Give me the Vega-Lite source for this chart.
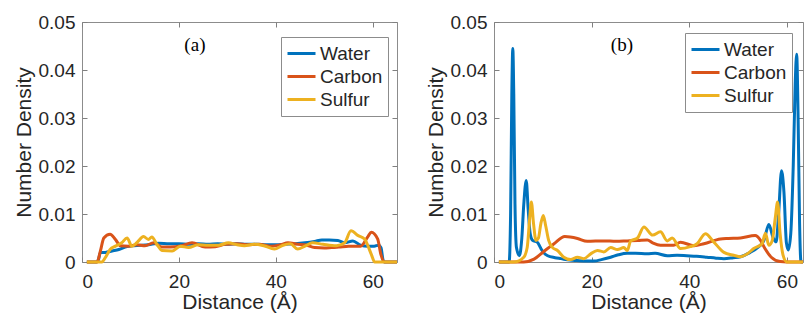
{
  "$schema": "https://vega.github.io/schema/vega-lite/v6.json",
  "background": "white",
  "padding": {"left": 12, "top": 12, "right": 0, "bottom": 0},
  "spacing": 20,
  "config": {
    "font": "Liberation Sans",
    "view": {"stroke": "#8c8c8c", "strokeWidth": 1},
    "axis": {
      "labelFont": "Liberation Sans", "labelFontSize": 19, "labelColor": "#262626",
      "titleFont": "Liberation Sans", "titleFontSize": 21, "titleFontWeight": "normal", "titleColor": "#262626",
      "tickColor": "#808080", "tickSize": -5, "domainColor": "#8c8c8c", "grid": false
    },
    "legend": {
      "labelFont": "Liberation Sans", "labelFontSize": 19, "labelColor": "#262626",
      "fillColor": "white", "strokeColor": "#8c8c8c", "padding": 5,
      "symbolType": "stroke", "symbolStrokeWidth": 3, "symbolSize": 784, "rowPadding": 0, "clipHeight": 23, "labelOffset": 3
    }
  },
  "datasets": {
    "a": [
      {"s":"Water","x":1,"y":0},{"s":"Water","x":3,"y":0},{"s":"Water","x":3.4,"y":0.0005},{"s":"Water","x":3.8,"y":0.002},{"s":"Water","x":4.8,"y":0.002},{"s":"Water","x":6.2,"y":0.0023},{"s":"Water","x":7.6,"y":0.0026},{"s":"Water","x":8.9,"y":0.0031},{"s":"Water","x":10.7,"y":0.0034},{"s":"Water","x":13.7,"y":0.0036},{"s":"Water","x":15.8,"y":0.0039},{"s":"Water","x":18,"y":0.0038},{"s":"Water","x":20,"y":0.0038},{"s":"Water","x":22,"y":0.0037},{"s":"Water","x":24,"y":0.0038},{"s":"Water","x":26,"y":0.0037},{"s":"Water","x":28,"y":0.0038},{"s":"Water","x":30,"y":0.0037},{"s":"Water","x":32,"y":0.0038},{"s":"Water","x":34,"y":0.0037},{"s":"Water","x":36,"y":0.0037},{"s":"Water","x":38,"y":0.0036},{"s":"Water","x":40,"y":0.0036},{"s":"Water","x":42,"y":0.0037},{"s":"Water","x":44,"y":0.0038},{"s":"Water","x":46,"y":0.004},{"s":"Water","x":48,"y":0.0043},{"s":"Water","x":49.5,"y":0.0046},{"s":"Water","x":51,"y":0.0046},{"s":"Water","x":52.8,"y":0.0045},{"s":"Water","x":54.2,"y":0.004},{"s":"Water","x":55.9,"y":0.0044},{"s":"Water","x":57.5,"y":0.0035},{"s":"Water","x":59,"y":0.0033},{"s":"Water","x":60.3,"y":0.0033},{"s":"Water","x":61.2,"y":0.0035},{"s":"Water","x":61.7,"y":0.003},{"s":"Water","x":62.1,"y":0.0005},{"s":"Water","x":62.4,"y":0},{"s":"Water","x":65,"y":0},
      {"s":"Carbon","x":1,"y":0},{"s":"Carbon","x":3.1,"y":0},{"s":"Carbon","x":3.8,"y":0.0023},{"s":"Carbon","x":4.5,"y":0.005},{"s":"Carbon","x":5.8,"y":0.0058},{"s":"Carbon","x":6.9,"y":0.0047},{"s":"Carbon","x":7.9,"y":0.0034},{"s":"Carbon","x":9.6,"y":0.0033},{"s":"Carbon","x":11.3,"y":0.0036},{"s":"Carbon","x":13,"y":0.0034},{"s":"Carbon","x":14.8,"y":0.004},{"s":"Carbon","x":16.5,"y":0.0031},{"s":"Carbon","x":18.2,"y":0.0031},{"s":"Carbon","x":20.6,"y":0.0034},{"s":"Carbon","x":22.7,"y":0.004},{"s":"Carbon","x":25.4,"y":0.0031},{"s":"Carbon","x":27.5,"y":0.0032},{"s":"Carbon","x":29.6,"y":0.0037},{"s":"Carbon","x":32,"y":0.0038},{"s":"Carbon","x":34,"y":0.0036},{"s":"Carbon","x":36.5,"y":0.0037},{"s":"Carbon","x":39,"y":0.0033},{"s":"Carbon","x":41,"y":0.0036},{"s":"Carbon","x":42.5,"y":0.004},{"s":"Carbon","x":44.5,"y":0.0037},{"s":"Carbon","x":46,"y":0.0036},{"s":"Carbon","x":48,"y":0.003},{"s":"Carbon","x":50,"y":0.0029},{"s":"Carbon","x":51.5,"y":0.003},{"s":"Carbon","x":53,"y":0.0031},{"s":"Carbon","x":55,"y":0.0033},{"s":"Carbon","x":57.5,"y":0.0033},{"s":"Carbon","x":59,"y":0.0053},{"s":"Carbon","x":59.7,"y":0.0062},{"s":"Carbon","x":61,"y":0.0048},{"s":"Carbon","x":61.7,"y":0.0015},{"s":"Carbon","x":62.4,"y":0},{"s":"Carbon","x":65,"y":0},
      {"s":"Sulfur","x":1,"y":0},{"s":"Sulfur","x":4.1,"y":0},{"s":"Sulfur","x":4.8,"y":0.0009},{"s":"Sulfur","x":5.8,"y":0.0026},{"s":"Sulfur","x":6.9,"y":0.0033},{"s":"Sulfur","x":8.2,"y":0.004},{"s":"Sulfur","x":9.3,"y":0.005},{"s":"Sulfur","x":10.3,"y":0.0033},{"s":"Sulfur","x":11.3,"y":0.004},{"s":"Sulfur","x":12.7,"y":0.0053},{"s":"Sulfur","x":13.7,"y":0.0047},{"s":"Sulfur","x":14.4,"y":0.0052},{"s":"Sulfur","x":15.5,"y":0.0036},{"s":"Sulfur","x":16.5,"y":0.0024},{"s":"Sulfur","x":18.6,"y":0.0023},{"s":"Sulfur","x":20.3,"y":0.0033},{"s":"Sulfur","x":22,"y":0.003},{"s":"Sulfur","x":24,"y":0.0036},{"s":"Sulfur","x":26,"y":0.0035},{"s":"Sulfur","x":28.2,"y":0.0035},{"s":"Sulfur","x":30.2,"y":0.004},{"s":"Sulfur","x":32,"y":0.0036},{"s":"Sulfur","x":33.5,"y":0.0034},{"s":"Sulfur","x":35.5,"y":0.0037},{"s":"Sulfur","x":37.5,"y":0.0034},{"s":"Sulfur","x":39.7,"y":0.0027},{"s":"Sulfur","x":41.5,"y":0.0035},{"s":"Sulfur","x":43,"y":0.0038},{"s":"Sulfur","x":44.5,"y":0.0027},{"s":"Sulfur","x":46,"y":0.0033},{"s":"Sulfur","x":47.6,"y":0.004},{"s":"Sulfur","x":49.7,"y":0.0037},{"s":"Sulfur","x":52.5,"y":0.0034},{"s":"Sulfur","x":54.2,"y":0.004},{"s":"Sulfur","x":55.5,"y":0.0065},{"s":"Sulfur","x":57,"y":0.0055},{"s":"Sulfur","x":58.3,"y":0.0048},{"s":"Sulfur","x":59.7,"y":0.0016},{"s":"Sulfur","x":60.4,"y":0},{"s":"Sulfur","x":65,"y":0}
    ],
    "b": [
      {"s":"Water","x":1,"y":0},{"s":"Water","x":3.1,"y":0},{"s":"Water","x":3.4,"y":0.01},{"s":"Water","x":3.65,"y":0.035},{"s":"Water","x":3.85,"y":0.0445},{"s":"Water","x":4.05,"y":0.035},{"s":"Water","x":4.3,"y":0.012},{"s":"Water","x":4.6,"y":0.003},{"s":"Water","x":5.2,"y":0.0013},{"s":"Water","x":5.7,"y":0.005},{"s":"Water","x":6.1,"y":0.012},{"s":"Water","x":6.6,"y":0.017},{"s":"Water","x":7,"y":0.011},{"s":"Water","x":7.4,"y":0.006},{"s":"Water","x":7.9,"y":0.0045},{"s":"Water","x":8.9,"y":0.0041},{"s":"Water","x":9.5,"y":0.003},{"s":"Water","x":10.2,"y":0.0019},{"s":"Water","x":11,"y":0.0013},{"s":"Water","x":12.5,"y":0.0009},{"s":"Water","x":13.7,"y":0.0007},{"s":"Water","x":15.5,"y":0.0004},{"s":"Water","x":17,"y":0.0003},{"s":"Water","x":19,"y":0.0002},{"s":"Water","x":20.5,"y":0.0002},{"s":"Water","x":22,"y":0.0005},{"s":"Water","x":23.9,"y":0.001},{"s":"Water","x":25.5,"y":0.0015},{"s":"Water","x":27.3,"y":0.0018},{"s":"Water","x":29,"y":0.0018},{"s":"Water","x":31.4,"y":0.0017},{"s":"Water","x":33,"y":0.0018},{"s":"Water","x":35.5,"y":0.0013},{"s":"Water","x":37.5,"y":0.0014},{"s":"Water","x":39.5,"y":0.0013},{"s":"Water","x":41.5,"y":0.0012},{"s":"Water","x":43.6,"y":0.001},{"s":"Water","x":45.5,"y":0.0008},{"s":"Water","x":47.1,"y":0.0007},{"s":"Water","x":49,"y":0.0009},{"s":"Water","x":50.5,"y":0.0011},{"s":"Water","x":52.5,"y":0.002},{"s":"Water","x":54,"y":0.003},{"s":"Water","x":55.3,"y":0.0045},{"s":"Water","x":56.3,"y":0.0078},{"s":"Water","x":57.2,"y":0.005},{"s":"Water","x":57.8,"y":0.0042},{"s":"Water","x":58.3,"y":0.01},{"s":"Water","x":58.9,"y":0.019},{"s":"Water","x":59.4,"y":0.0145},{"s":"Water","x":59.9,"y":0.004},{"s":"Water","x":60.3,"y":0.0025},{"s":"Water","x":60.8,"y":0.006},{"s":"Water","x":61.3,"y":0.02},{"s":"Water","x":61.7,"y":0.037},{"s":"Water","x":62,"y":0.0433},{"s":"Water","x":62.3,"y":0.03},{"s":"Water","x":62.6,"y":0.008},{"s":"Water","x":62.9,"y":0},{"s":"Water","x":63.3,"y":0},
      {"s":"Carbon","x":1,"y":0},{"s":"Carbon","x":6.1,"y":0},{"s":"Carbon","x":8.2,"y":0.0006},{"s":"Carbon","x":10.2,"y":0.0022},{"s":"Carbon","x":12.3,"y":0.0038},{"s":"Carbon","x":14.5,"y":0.0053},{"s":"Carbon","x":17.1,"y":0.0049},{"s":"Carbon","x":19.1,"y":0.0043},{"s":"Carbon","x":22.5,"y":0.0044},{"s":"Carbon","x":25,"y":0.0043},{"s":"Carbon","x":27.3,"y":0.0044},{"s":"Carbon","x":29.5,"y":0.0045},{"s":"Carbon","x":31.4,"y":0.0046},{"s":"Carbon","x":32.5,"y":0.004},{"s":"Carbon","x":34.1,"y":0.0035},{"s":"Carbon","x":36.8,"y":0.0035},{"s":"Carbon","x":38.2,"y":0.0041},{"s":"Carbon","x":41,"y":0.0034},{"s":"Carbon","x":43,"y":0.0038},{"s":"Carbon","x":46.4,"y":0.0048},{"s":"Carbon","x":48,"y":0.0049},{"s":"Carbon","x":50.5,"y":0.005},{"s":"Carbon","x":53.5,"y":0.0055},{"s":"Carbon","x":54.6,"y":0.0045},{"s":"Carbon","x":55.5,"y":0.0028},{"s":"Carbon","x":56.8,"y":0.001},{"s":"Carbon","x":58.6,"y":0.0001},{"s":"Carbon","x":60,"y":0},{"s":"Carbon","x":63.3,"y":0},
      {"s":"Sulfur","x":1,"y":0},{"s":"Sulfur","x":4.1,"y":0},{"s":"Sulfur","x":6.1,"y":0.001},{"s":"Sulfur","x":6.8,"y":0.003},{"s":"Sulfur","x":7.3,"y":0.009},{"s":"Sulfur","x":7.65,"y":0.0125},{"s":"Sulfur","x":8.1,"y":0.008},{"s":"Sulfur","x":8.6,"y":0.0045},{"s":"Sulfur","x":9.1,"y":0.005},{"s":"Sulfur","x":9.6,"y":0.008},{"s":"Sulfur","x":10.1,"y":0.0097},{"s":"Sulfur","x":10.6,"y":0.0075},{"s":"Sulfur","x":11.2,"y":0.0045},{"s":"Sulfur","x":12,"y":0.003},{"s":"Sulfur","x":13,"y":0.0024},{"s":"Sulfur","x":14.3,"y":0.001},{"s":"Sulfur","x":15.7,"y":0.0005},{"s":"Sulfur","x":17.1,"y":0.001},{"s":"Sulfur","x":18.4,"y":0.0007},{"s":"Sulfur","x":19.8,"y":0.0017},{"s":"Sulfur","x":21.2,"y":0.0024},{"s":"Sulfur","x":22.5,"y":0.0021},{"s":"Sulfur","x":23.9,"y":0.003},{"s":"Sulfur","x":25.3,"y":0.0026},{"s":"Sulfur","x":26.6,"y":0.003},{"s":"Sulfur","x":27.3,"y":0.0024},{"s":"Sulfur","x":28,"y":0.0044},{"s":"Sulfur","x":29.4,"y":0.005},{"s":"Sulfur","x":30.7,"y":0.0073},{"s":"Sulfur","x":32.5,"y":0.0056},{"s":"Sulfur","x":34.1,"y":0.0063},{"s":"Sulfur","x":35.5,"y":0.0044},{"s":"Sulfur","x":36.5,"y":0.005},{"s":"Sulfur","x":38.2,"y":0.0028},{"s":"Sulfur","x":40.2,"y":0.0032},{"s":"Sulfur","x":41.6,"y":0.0038},{"s":"Sulfur","x":43.3,"y":0.0059},{"s":"Sulfur","x":45,"y":0.0042},{"s":"Sulfur","x":47.1,"y":0.002},{"s":"Sulfur","x":49.1,"y":0.0014},{"s":"Sulfur","x":50.5,"y":0.0011},{"s":"Sulfur","x":51.9,"y":0.0017},{"s":"Sulfur","x":53.2,"y":0.0028},{"s":"Sulfur","x":54.9,"y":0.0038},{"s":"Sulfur","x":55.6,"y":0.006},{"s":"Sulfur","x":56.3,"y":0.0035},{"s":"Sulfur","x":57,"y":0.0045},{"s":"Sulfur","x":57.6,"y":0.009},{"s":"Sulfur","x":58.1,"y":0.0125},{"s":"Sulfur","x":58.6,"y":0.006},{"s":"Sulfur","x":59.2,"y":0.0015},{"s":"Sulfur","x":60,"y":0},{"s":"Sulfur","x":63.3,"y":0}
    ]
  },
  "hconcat": [
    {
      "width": 315, "height": 240,
      "layer": [
        {
          "layer": [
            {
              "data": {"name": "a"},
              "mark": {"type": "line", "strokeWidth": 3, "interpolate": "monotone"},
              "encoding": {
                "x": {"field": "x", "type": "quantitative", "scale": {"domain": [0, 65], "nice": false},
                      "axis": {"values": [0, 20, 40, 60], "title": "Distance (Å)", "labelPadding": 15, "titlePadding": 0, "domain": false}},
                "y": {"field": "y", "type": "quantitative", "scale": {"domain": [0, 0.05], "nice": false},
                      "axis": {"values": [0, 0.01, 0.02, 0.03, 0.04, 0.05], "labelExpr": "datum.value == 0 ? '0' : format(datum.value, '.2f')", "title": "Number Density", "labelPadding": 12, "titlePadding": 4, "domain": false}},
                "color": {"field": "s", "type": "nominal", "sort": ["Water", "Carbon", "Sulfur"],
                          "scale": {"domain": ["Water", "Carbon", "Sulfur"], "range": ["#0072BD", "#D95319", "#EDB120"]},
                          "legend": {"title": null, "orient": "none", "legendX": 199, "legendY": 15}}
              }
            },
            {
              "data": {"values": [{"label": "(a)"}]},
              "mark": {"type": "text", "font": "Liberation Serif", "fontSize": 19, "color": "#000000"},
              "encoding": {
                "x": {"datum": 23.3, "type": "quantitative"},
                "y": {"datum": 0.0452, "type": "quantitative"},
                "text": {"field": "label"}
              }
            }
          ]
        },
        {
          "data": {"name": "a"},
          "mark": {"type": "point", "opacity": 0},
          "encoding": {
            "x": {"field": "x", "type": "quantitative", "scale": {"domain": [0, 65], "nice": false},
                  "axis": {"orient": "top", "values": [0, 20, 40, 60], "labels": false, "title": null, "domain": false}},
            "y": {"field": "y", "type": "quantitative", "scale": {"domain": [0, 0.05], "nice": false},
                  "axis": {"orient": "right", "values": [0, 0.01, 0.02, 0.03, 0.04, 0.05], "labels": false, "title": null, "domain": false}}
          }
        }
      ],
      "resolve": {"scale": {"x": "independent", "y": "independent"}}
    },
    {
      "width": 309, "height": 240,
      "layer": [
        {
          "layer": [
            {
              "data": {"name": "b"},
              "mark": {"type": "line", "strokeWidth": 3, "interpolate": "monotone"},
              "encoding": {
                "x": {"field": "x", "type": "quantitative", "scale": {"domain": [0, 63.3], "nice": false},
                      "axis": {"values": [0, 20, 40, 60], "title": "Distance (Å)", "labelPadding": 15, "titlePadding": 0, "domain": false}},
                "y": {"field": "y", "type": "quantitative", "scale": {"domain": [0, 0.05], "nice": false},
                      "axis": {"values": [0, 0.01, 0.02, 0.03, 0.04, 0.05], "labelExpr": "datum.value == 0 ? '0' : format(datum.value, '.2f')", "title": "Number Density", "labelPadding": 12, "titlePadding": 4, "domain": false}},
                "color": {"field": "s", "type": "nominal", "sort": ["Water", "Carbon", "Sulfur"],
                          "scale": {"domain": ["Water", "Carbon", "Sulfur"], "range": ["#0072BD", "#D95319", "#EDB120"]},
                          "legend": {"title": null, "orient": "none", "legendX": 191, "legendY": 11}}
              }
            },
            {
              "data": {"values": [{"label": "(b)"}]},
              "mark": {"type": "text", "font": "Liberation Serif", "fontSize": 19, "color": "#000000"},
              "encoding": {
                "x": {"datum": 26.2, "type": "quantitative"},
                "y": {"datum": 0.0452, "type": "quantitative"},
                "text": {"field": "label"}
              }
            }
          ]
        },
        {
          "data": {"name": "b"},
          "mark": {"type": "point", "opacity": 0},
          "encoding": {
            "x": {"field": "x", "type": "quantitative", "scale": {"domain": [0, 63.3], "nice": false},
                  "axis": {"orient": "top", "values": [0, 20, 40, 60], "labels": false, "title": null, "domain": false}},
            "y": {"field": "y", "type": "quantitative", "scale": {"domain": [0, 0.05], "nice": false},
                  "axis": {"orient": "right", "values": [0, 0.01, 0.02, 0.03, 0.04, 0.05], "labels": false, "title": null, "domain": false}}
          }
        }
      ],
      "resolve": {"scale": {"x": "independent", "y": "independent"}}
    }
  ],
  "resolve": {"scale": {"color": "independent"}, "legend": {"color": "independent"}}
}
